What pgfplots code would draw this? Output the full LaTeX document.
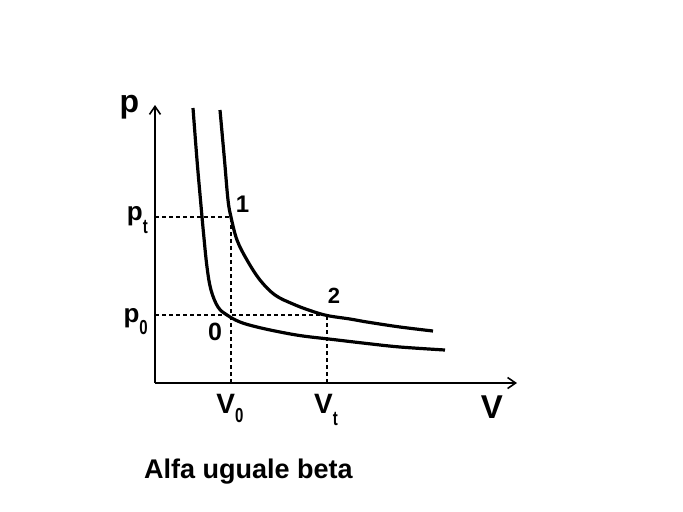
\documentclass[border=0pt]{standalone}
\usepackage{fontspec}
\setmainfont{Liberation Sans}
\usepackage{graphicx}
\usepackage{pgfplots}
\pgfplotsset{compat=1.18}
\usetikzlibrary{arrows.meta}
\newcommand{\sub}[2]{\raisebox{#1}{\scalebox{1}[1.35]{\fontsize{15bp}{15bp}\selectfont #2}}}
\begin{document}
\begin{tikzpicture}
\path[use as bounding box, fill=white] (0bp,0bp) rectangle (683bp,-512bp);
\begin{axis}[at={(155bp,-383bp)}, anchor=origin, x=1bp, y=1bp,
  xmin=0, xmax=362, ymin=0, ymax=278,
  axis lines=left,
  axis line style={line width=1.8bp, -{Straight Barb[length=8bp,width=11bp,line width=1.6bp]}},
  xtick=\empty, ytick=\empty, clip=false,
  every node/.style={font=\bfseries}]
% dashed guides
\addplot[black, line width=1.4bp, dash pattern=on 4bp off 3bp] coordinates {(0,166) (76,166)};
\addplot[black, line width=1.4bp, dash pattern=on 4bp off 3bp] coordinates {(76,0) (76,166)};
\addplot[black, line width=1.4bp, dash pattern=on 4bp off 3bp] coordinates {(0,68) (172,68)};
\addplot[black, line width=1.4bp, dash pattern=on 4bp off 3bp] coordinates {(172,0) (172,68)};
% lower curve (0)
\addplot[black, line width=3.2bp, smooth, tension=0.6] coordinates {
 (38,275) (42,223) (45.5,183) (48.5,150) (52,116) (56,93) (63,76) (72,68) (85,61) (102,56) (125,51) (148,47) (178,43.5) (212,39.5) (245,36) (290,33)};
% upper curve (1-2)
\addplot[black, line width=3.2bp, smooth, tension=0.6] coordinates {
 (65,273) (69.5,223) (73,183) (76,166) (82,143) (92,123) (105,103) (120,88) (138,79) (155,72.5) (172,67.5) (195,64) (212,61) (245,56) (278,52)};
% labels
\node[anchor=base, inner sep=0pt, font=\bfseries\fontsize{32bp}{32bp}\selectfont] at (axis cs:-25.5,271) {p};
\node[anchor=base, inner sep=0pt, font=\bfseries\fontsize{33bp}{33bp}\selectfont] at (axis cs:337,-35) {V};
\node[anchor=base east, inner sep=0pt, font=\bfseries\fontsize{26bp}{26bp}\selectfont] at (axis cs:-7,163) {p\sub{-13bp}{t}};
\node[anchor=base east, inner sep=0pt, font=\bfseries\fontsize{26bp}{26bp}\selectfont] at (axis cs:-7,61) {p\sub{-12bp}{0}};
\node[anchor=base, inner sep=0pt, font=\bfseries\fontsize{28bp}{28bp}\selectfont] at (axis cs:75,-30) {V\sub{-9bp}{0}};
\node[anchor=base, inner sep=0pt, font=\bfseries\fontsize{28bp}{28bp}\selectfont] at (axis cs:171,-30) {V\sub{-12bp}{t}};
\node[anchor=base, inner sep=0pt, font=\bfseries\fontsize{24bp}{24bp}\selectfont] at (axis cs:87.5,171) {1};
\node[anchor=base, inner sep=0pt, font=\bfseries\fontsize{22bp}{22bp}\selectfont] at (axis cs:179,80) {2};
\node[anchor=base, inner sep=0pt, font=\bfseries\fontsize{25bp}{25bp}\selectfont] at (axis cs:60,43) {0};
\node[anchor=base, inner sep=0pt, font=\bfseries\fontsize{27bp}{27bp}\selectfont] at (axis cs:93.5,-95) {Alfa uguale beta};
\end{axis}
\end{tikzpicture}
\end{document}
